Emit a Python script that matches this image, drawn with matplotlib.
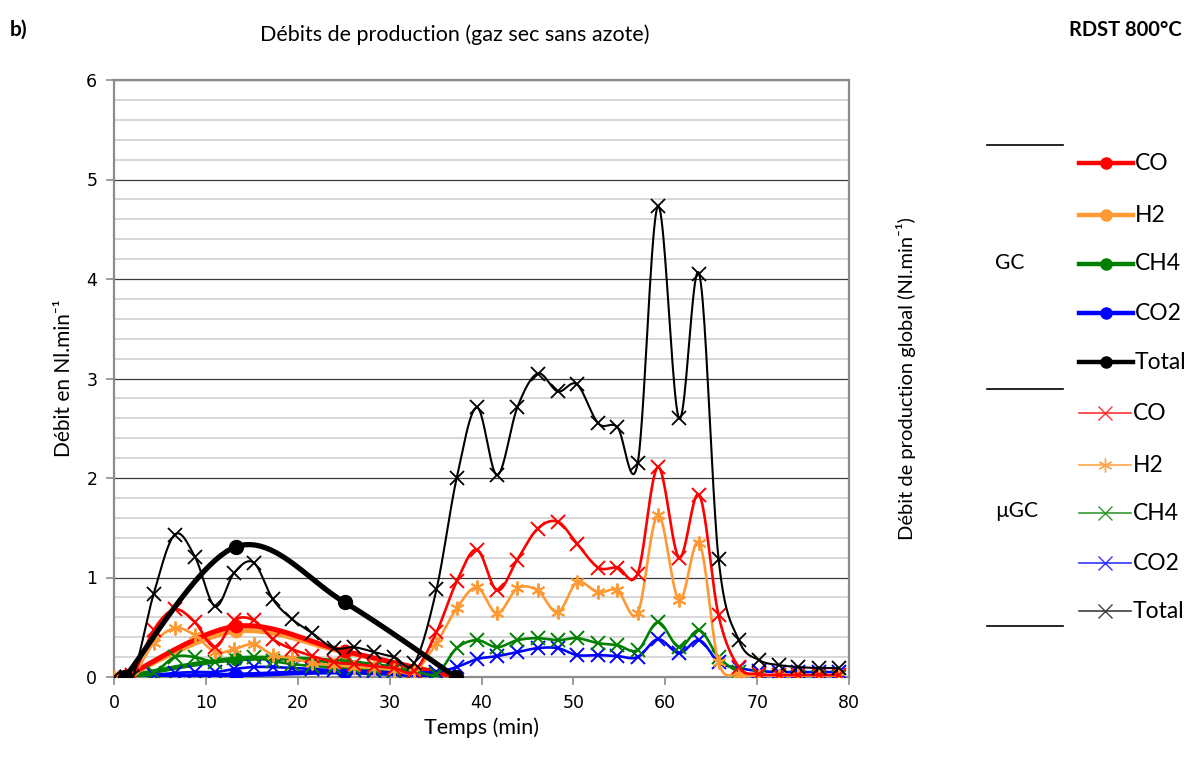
import numpy as np
import matplotlib
matplotlib.use("Agg")
import matplotlib.pyplot as plt
from matplotlib.lines import Line2D
from matplotlib.ticker import MultipleLocator

# ---------------- data ----------------
t_ugc = [0, 2.0, 4.3, 6.6, 8.8, 11.0, 13.1, 15.2, 17.3, 19.4, 21.6, 23.9, 26.1, 28.3,
         30.5, 32.7, 35.1, 37.3, 39.5, 41.7, 43.9, 46.1, 48.3, 50.4, 52.7, 54.8, 57.0,
         59.2, 61.5, 63.7, 65.8, 68.0, 70.2, 72.4, 74.5, 76.7, 78.9]
ugc_total = [0, 0, 0.83, 1.43, 1.21, 0.71, 1.05, 1.15, 0.78, 0.58, 0.44, 0.29, 0.30, 0.25,
             0.20, 0.14, 0.88, 2.00, 2.71, 2.03, 2.71, 3.05, 2.87, 2.94, 2.55, 2.51, 2.15,
             4.73, 2.60, 4.05, 1.19, 0.37, 0.17, 0.12, 0.10, 0.09, 0.09]
ugc_co = [0, 0.02, 0.47, 0.68, 0.55, 0.30, 0.57, 0.57, 0.38, 0.28, 0.21, 0.15, 0.13, 0.11,
          0.09, 0.06, 0.45, 0.96, 1.28, 0.87, 1.18, 1.49, 1.56, 1.34, 1.10, 1.10, 1.04,
          2.11, 1.20, 1.83, 0.62, 0.10, 0.03, 0.02, 0.02, 0.02, 0.02]
ugc_h2 = [0, 0.01, 0.34, 0.49, 0.42, 0.25, 0.28, 0.33, 0.22, 0.19, 0.14, 0.12, 0.10, 0.09,
          0.07, 0.05, 0.34, 0.69, 0.90, 0.64, 0.89, 0.87, 0.65, 0.95, 0.85, 0.87, 0.64,
          1.63, 0.77, 1.35, 0.15, 0.03, 0.01, 0.01, 0.01, 0.01, 0.01]
ugc_ch4 = [0, 0, 0.04, 0.20, 0.20, 0.15, 0.19, 0.20, 0.16, 0.13, 0.11, 0.10, 0.09, 0.08,
           0.07, 0.06, 0.03, 0.29, 0.37, 0.30, 0.37, 0.39, 0.37, 0.39, 0.34, 0.32, 0.27,
           0.55, 0.30, 0.47, 0.20, 0.05, 0.01, 0, 0, 0, 0]
ugc_co2 = [0, 0, 0.02, 0.04, 0.05, 0.05, 0.08, 0.10, 0.10, 0.09, 0.08, 0.07, 0.07, 0.06,
           0.06, 0.05, 0.05, 0.10, 0.18, 0.21, 0.25, 0.29, 0.29, 0.22, 0.22, 0.21, 0.20,
           0.38, 0.24, 0.37, 0.15, 0.09, 0.06, 0.05, 0.05, 0.05, 0.05]

t_gc = [1.2, 13.3, 25.1, 37.2]
gc_co = [0, 0.51, 0.26, 0]
gc_h2 = [0, 0.46, 0.25, 0]
gc_ch4 = [0, 0.18, 0.15, 0]
gc_co2 = [0, 0.02, 0.05, 0]
gc_total = [0, 1.31, 0.75, 0]

species = ["CO", "H2", "CH4", "CO2", "Total"]
x_ticks = [0, 10, 20, 30, 40, 50, 60, 70, 80]
y_ticks = [0, 1, 2, 3, 4, 5, 6]

C_RED, C_ORA, C_GRN, C_BLU, C_BLK = "#FF0000", "#FF9933", "#008000", "#0000FF", "#000000"


def smooth(x, y, n=24):
    """Excel-like smoothed line (cubic Bezier through the points)."""
    p = np.column_stack([x, y]).astype(float)
    out = []
    for i in range(len(p) - 1):
        p0 = p[i - 1] if i > 0 else p[i]
        p1, p2 = p[i], p[i + 1]
        p3 = p[i + 2] if i + 2 < len(p) else p[i + 1]
        c1 = p1 + (p2 - p0) / 6.0
        c2 = p2 - (p3 - p1) / 6.0
        tt = np.linspace(0, 1, n)[:, None]
        seg = ((1 - tt) ** 3) * p1 + 3 * ((1 - tt) ** 2) * tt * c1 + 3 * (1 - tt) * tt ** 2 * c2 + tt ** 3 * p2
        out.append(seg if i == 0 else seg[1:])
    s = np.vstack(out)
    return s[:, 0], s[:, 1]


plt.rcParams['font.family'] = ['Lato', 'DejaVu Sans']
fig = plt.figure(figsize=(11.99, 7.61), dpi=100)
ax = fig.add_axes([114 / 1199, 1 - 677 / 761, (849 - 114) / 1199, (677 - 80) / 761])

ax.set_xlim(0, 80)
ax.set_ylim(0, 6)
ax.set_xticks(x_ticks)
ax.set_yticks(y_ticks)
ax.yaxis.set_minor_locator(MultipleLocator(0.2))
ax.grid(which='minor', axis='y', color='#d4d4d4', lw=1.3, zorder=0)
ax.grid(which='major', axis='y', color='#3a3a3a', lw=0.9, zorder=0)
ax.set_axisbelow(True)
for s in ax.spines.values():
    s.set_color('#8c8c8c')
    s.set_linewidth(1.6)
ax.tick_params(axis='both', which='major', color='#8c8c8c', width=1.2, length=6,
               labelsize=12.5, pad=6)
ax.tick_params(axis='y', which='minor', length=0)
ax.tick_params(axis='y', right=True, labelright=True)
for lab in ax.get_xticklabels() + ax.get_yticklabels():
    lab.set_fontfamily('DejaVu Sans')

# GC components (thick lines, circles)
for yv, c in [(gc_co2, C_BLU), (gc_ch4, C_GRN), (gc_h2, C_ORA), (gc_co, C_RED)]:
    sx, sy = smooth(t_gc, yv)
    ax.plot(sx, sy, color=c, lw=3.6, zorder=3, solid_capstyle='round')
    ax.plot(t_gc, yv, ls='none', marker='o', ms=9, color=c, zorder=3)

# uGC components (thin lines, crosses)
for yv, c, m in [(ugc_co2, C_BLU, 'x'), (ugc_ch4, C_GRN, 'x'), (ugc_h2, C_ORA, (6, 2, 0)),
                 (ugc_co, C_RED, 'x')]:
    sx, sy = smooth(t_ugc, yv)
    ax.plot(sx, sy, color=c, lw=1.9, zorder=4)
    ax.plot(t_ugc, yv, ls='none', marker=m, ms=10, mew=1.4, color=c, zorder=4)

# totals
sx, sy = smooth(t_gc, gc_total)
ax.plot(sx, sy, color=C_BLK, lw=3.8, zorder=5, solid_capstyle='round')
ax.plot(t_gc, gc_total, ls='none', marker='o', ms=10, color=C_BLK, zorder=5)
sx, sy = smooth(t_ugc, ugc_total)
ax.plot(sx, sy, color=C_BLK, lw=1.5, zorder=6)
ax.plot(t_ugc, ugc_total, ls='none', marker='x', ms=10, mew=1.3, color=C_BLK, zorder=6)

ax.set_xlabel("Temps (min)", fontsize=15.5, labelpad=4)
ax.set_ylabel("Débit en Nl.min⁻¹", fontsize=15, labelpad=9)
ax2 = ax.twinx()
ax2.set_ylim(0, 6)
ax2.set_yticks([])
for s in ax2.spines.values():
    s.set_visible(False)
ax2.set_ylabel("Débit de production global (Nl.min⁻¹)", fontsize=14.5, labelpad=34)

fig.text(10 / 1199, 1 - 30 / 761, "b)", fontsize=15, fontweight='bold', va='center', ha='left')
fig.text(455 / 1199, 1 - 35 / 761, "Débits de production (gaz sec sans azote)", fontsize=15.5,
         va='center', ha='center')
fig.text(1182 / 1199, 1 - 30 / 761, "RDST 800°C", fontsize=14.5, fontweight='bold',
         va='center', ha='right')

# custom legend
def fx(px):
    return px / 1199


def fy(py):
    return 1 - py / 761


for py in [145, 389, 626]:
    fig.add_artist(Line2D([fx(987), fx(1063)], [fy(py), fy(py)], color='black', lw=1.2))
fig.text(fx(1010), fy(263), "GC", fontsize=15, ha='center', va='center')
fig.text(fx(1017), fy(511), "µGC", fontsize=15, ha='center', va='center')

gc_cols = [C_RED, C_ORA, C_GRN, C_BLU, C_BLK]
ugc_cols = ["#FF3333", "#FFA64D", "#339933", "#3333FF", "#404040"]
ugc_marks = ['x', (6, 2, 0), 'x', 'x', 'x']
gc_y = [163, 215, 264, 313, 362]
ugc_y = [413, 465, 513, 563, 611]
for name, c, py in zip(species, gc_cols, gc_y):
    fig.add_artist(Line2D([fx(1079), fx(1133)], [fy(py), fy(py)], color=c, lw=3.2))
    fig.add_artist(Line2D([fx(1106)], [fy(py)], color=c, marker='o', ms=8, ls='none'))
    fig.text(fx(1135), fy(py), name, fontsize=16.5, ha='left', va='center')
for name, c, m, py in zip(species, ugc_cols, ugc_marks, ugc_y):
    fig.add_artist(Line2D([fx(1079), fx(1131)], [fy(py), fy(py)], color=c, lw=1.2))
    fig.add_artist(Line2D([fx(1105)], [fy(py)], color=c, marker=m, ms=10, mew=1.0, ls='none'))
    fig.text(fx(1133), fy(py), name, fontsize=16.5, ha='left', va='center')

fig.savefig("out.png", dpi=100)
